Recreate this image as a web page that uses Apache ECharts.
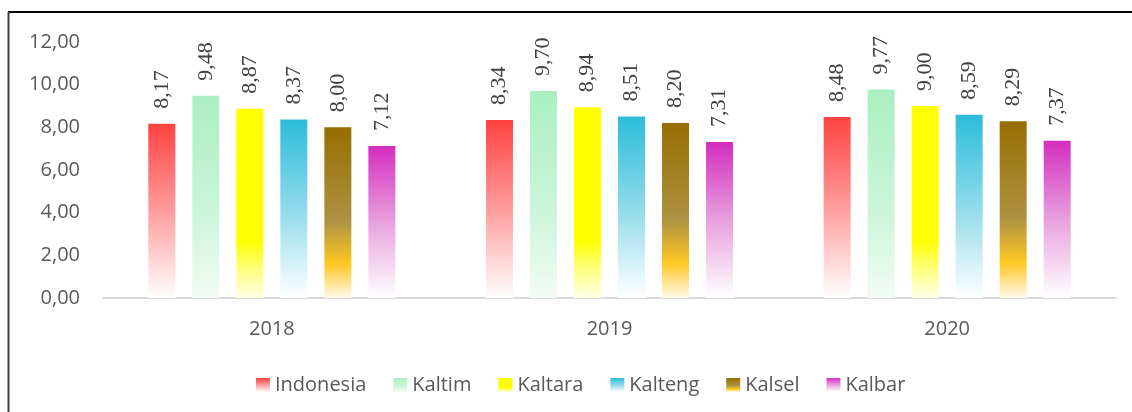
<!DOCTYPE html>
<html>
<head>
<meta charset="utf-8">
<script src="https://cdn.jsdelivr.net/npm/echarts@6/dist/echarts.min.js"></script>
<style>
  html, body { margin: 0; padding: 0; background: #fff; }
  #container { width: 1132px; height: 412px; }
</style>
</head>
<body>
<div id="container"></div>
<script>
var years = ['2018', '2019', '2020'];
var indonesia = [8.17, 8.34, 8.48];
var kaltim = [9.48, 9.70, 9.77];
var kaltara = [8.87, 8.94, 9.00];
var kalteng = [8.37, 8.51, 8.59];
var kalsel = [8.00, 8.20, 8.29];
var kalbar = [7.12, 7.31, 7.37];

var myChart = echarts.init(document.getElementById('container'));

function grad(stops) {
	return new echarts.graphic.LinearGradient(0, 0, 0, 1, stops.map(function (s) {
		return { offset: s[0], color: s[1] };
	}));
}

var fills = {
	Indonesia: grad([[0, '#FF4242'], [0.5, '#FF9C9C'], [1, '#FFFFFF']]),
	Kaltim: grad([[0, '#AAEFC1'], [0.6, '#CDF5DA'], [1, '#F2FCF5']]),
	Kaltara: grad([[0, '#FFFF00'], [0.7, '#FFFF00'], [0.85, '#FFFF80'], [1, '#FFFFE6']]),
	Kalteng: grad([[0, '#2BBDDA'], [0.5, '#8FDAEA'], [1, '#FFFFFF']]),
	Kalsel: grad([[0, '#966E00'], [0.55, '#AE9243'], [0.8, '#FFC823'], [1, '#FFF9EA']]),
	Kalbar: grad([[0, '#D42DBF'], [0.5, '#E8A0DE'], [1, '#FFFFFF']])
};

function bar(name, values) {
	return {
		name: name,
		type: 'bar',
		data: values,
		barWidth: 27,
		barGap: '63%',
		itemStyle: { color: fills[name] },
		label: {
			show: true,
			position: 'top',
			rotate: 90,
			align: 'left',
			verticalAlign: 'middle',
			distance: 15,
			fontFamily: 'Liberation Serif',
			fontSize: 22,
			color: '#404040',
			formatter: function (p) { return p.value.toFixed(2).replace('.', ','); }
		}
	};
}

option = {
	animation: false,
	textStyle: { fontFamily: 'Open Sans' },
	grid: { left: 103, right: 16, top: 42, bottom: 114 },
	legend: {
		left: 251,
		top: 370,
		itemWidth: 14,
		itemHeight: 14,
		itemGap: 27,
		icon: 'rect',
		textStyle: { fontFamily: 'Open Sans', fontSize: 20, color: '#595959' },
		data: ['Indonesia', 'Kaltim', 'Kaltara', 'Kalteng', 'Kalsel', 'Kalbar']
	},
	xAxis: {
		type: 'category',
		data: years,
		axisLine: { lineStyle: { color: '#D9D9D9', width: 2 } },
		axisTick: { show: false },
		axisLabel: { fontFamily: 'Open Sans', fontSize: 20, color: '#595959', margin: 21 }
	},
	yAxis: {
		type: 'value',
		min: 0,
		max: 12,
		interval: 2,
		splitLine: { show: false },
		axisLine: { show: false },
		axisTick: { show: false },
		axisLabel: {
			fontFamily: 'Open Sans', fontSize: 20, color: '#595959', margin: 23,
			formatter: function (v) { return v.toFixed(2).replace('.', ','); }
		}
	},
	graphic: [
		{ type: 'line', shape: { x1: 8, y1: 12, x2: 1132, y2: 12 }, style: { stroke: '#000', lineWidth: 2 } },
		{ type: 'line', shape: { x1: 8.5, y1: 12, x2: 8.5, y2: 412 }, style: { stroke: '#404040', lineWidth: 2 } }
	],
	series: [
		bar('Indonesia', indonesia),
		bar('Kaltim', kaltim),
		bar('Kaltara', kaltara),
		bar('Kalteng', kalteng),
		bar('Kalsel', kalsel),
		bar('Kalbar', kalbar)
	]
};

myChart.setOption(option);
</script>
</body>
</html>
